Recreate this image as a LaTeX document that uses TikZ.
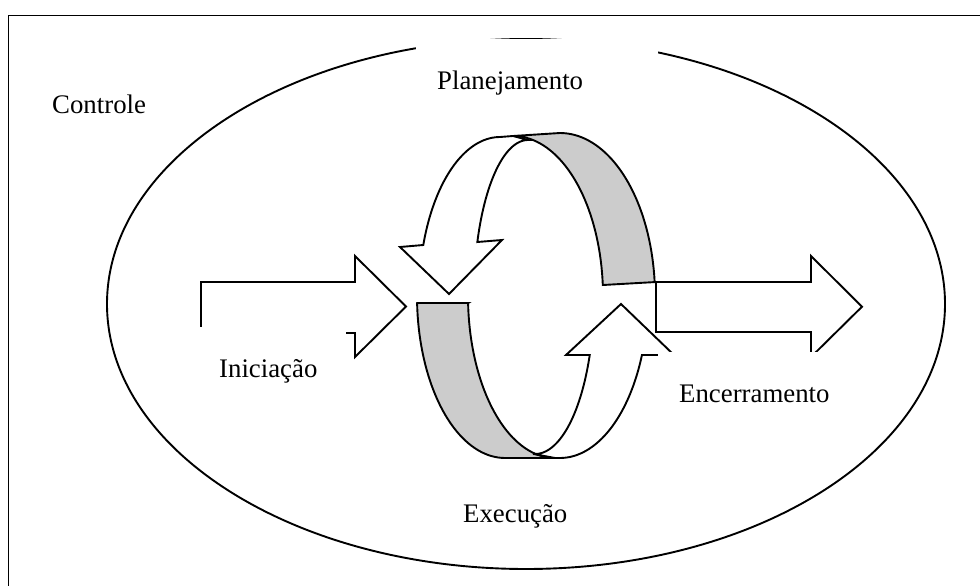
\documentclass[tikz,border=0pt]{standalone}
\usepackage{fontspec}
\setmainfont{Liberation Serif}
\begin{document}
\begin{tikzpicture}[x=1pt,y=-1pt,
  outl/.style={draw=black, line width=1.9pt, line join=miter},
  band/.style={outl, fill=black!20},
  face/.style={outl, fill=white},
  lbl/.style={anchor=north west, inner xsep=21pt, inner ysep=30pt,
    text height=20pt, text depth=6pt, align=left,
    font=\fontsize{26.8}{32}\selectfont},
  cover/.style={fill=white}]
\useasboundingbox (0,0) rectangle (980,586);
% frame
\begin{scope}
  \clip (0,0) rectangle (980,586);
  \draw[outl] (8.5,15.5) rectangle (1000,610);
\end{scope}
% ellipse
\draw[outl] (526,304) ellipse [x radius=419, y radius=265];
% left block arrow
\draw[face] (201,282) -- (355,282) -- (355,256) -- (406,306.5) -- (355,357) -- (355,333) -- (201,333) -- cycle;
% right block arrow
\draw[face] (656,282) -- (811,282) -- (811,256) -- (862,306.7) -- (811,357) -- (811,332) -- (656,332) -- cycle;
% top ring arrow: back band
\draw[band] (513,136)
  -- plot[domain=-90:-3.94,samples=40,variable=\t] ({513+90*cos(\t)},{296+160*sin(\t)})
  -- plot[domain=-4.9:-90,samples=40,variable=\t] ({560+95*cos(\t)},{296+163*sin(\t)})
  -- cycle;
% top ring arrow: front face with head
\draw[face] (500,137)
  -- plot[domain=-90:-161.29,samples=40,variable=\t] ({500+81*cos(\t)},{296+159*sin(\t)})
  -- (400,247) -- (449,294) -- (502,240)
  -- plot[domain=-159.75:-90,samples=40,variable=\t] ({528+54*cos(\t)},{296+156*sin(\t)})
  -- (513,136) -- cycle;
% bottom ring arrow: back band
\draw[band] (417.1,303) -- (468.1,303)
  -- plot[domain=177.52:90,samples=40,variable=\t] ({555+87*cos(\t)},{296+162*sin(\t)})
  -- plot[domain=90:177.52,samples=40,variable=\t] ({505+88*cos(\t)},{296+162*sin(\t)})
  -- cycle;
% bottom ring arrow: front face with head
\draw[face] (560,458)
  -- plot[domain=90:21.36,samples=40,variable=\t] ({560+88*cos(\t)},{296+162*sin(\t)})
  -- (674,355) -- (621,304) -- (566,355)
  -- plot[domain=21.93:91.9,samples=40,variable=\t] ({535+59*cos(\t)},{296+158*sin(\t)})
  -- (555,458) -- cycle;
% labels
\node[lbl, text width=100pt] (controle) at (31,63) {Controle};
\node[lbl, cover, text width=200pt] (plan) at (416,39.3) {Planejamento};
\node[lbl, cover, text width=106pt] (inic) at (198,327) {Iniciação};
\node[lbl, cover, text width=160pt] (encer) at (658,352) {Encerramento};
\node[lbl, text width=110pt] (exec) at (442,472) {Execução};
\end{tikzpicture}
\end{document}
